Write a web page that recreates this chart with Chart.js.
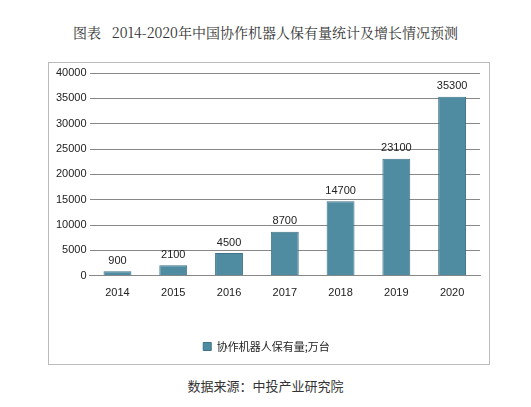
<!DOCTYPE html>
<html><head><meta charset="utf-8">
<script src="https://cdn.jsdelivr.net/npm/chart.js@4"></script>
<style>
body{margin:0;background:#fff;font-family:"Noto Sans CJK SC","DejaVu Sans",sans-serif;}
#title{position:absolute;left:0;width:531px;top:22px;text-align:center;font-size:14px;color:#333;font-family:"Noto Serif CJK SC","Liberation Serif","Noto Sans CJK SC",serif;}
#box{position:absolute;left:48px;top:62px;width:442px;height:303px;border:1px solid #bbb;box-sizing:border-box;}
#c{position:absolute;left:0;top:0;}
#src{position:absolute;left:0;width:531px;top:376px;text-align:center;font-size:13px;color:#333;}
</style></head><body>
<div id="title">图表&nbsp;&nbsp;&nbsp;2014-2020年中国协作机器人保有量统计及增长情况预测</div>
<div id="box"><canvas id="c" width="440" height="301"></canvas></div>
<div id="src">数据来源：中投产业研究院</div>
<script>
// data
const years = ['2014', '2015', '2016', '2017', '2018', '2019', '2020'];
const stock = [900, 2100, 4500, 8700, 14700, 23100, 35300];
const seriesName = '协作机器人保有量;万台';

const valueLabels = {
  id: 'valueLabels',
  afterDatasetsDraw(chart) {
    const ctx = chart.ctx;
    ctx.save();
    ctx.font = '11px "Liberation Sans", Arial, sans-serif';
    ctx.fillStyle = '#222';
    ctx.textAlign = 'center';
    ctx.textBaseline = 'bottom';
    chart.getDatasetMeta(0).data.forEach((bar, i) => {
      ctx.fillText(stock[i], bar.x, bar.y - 5);
    });
    ctx.restore();
  }
};

new Chart(document.getElementById('c'), {
  type: 'bar',
  data: {
    labels: years,
    datasets: [{
      label: seriesName,
      data: stock,
      backgroundColor: '#4f8ba1',
      borderColor: '#3d7388',
      borderWidth: 1,
      categoryPercentage: 1,
      barPercentage: 0.5
    }]
  },
  options: {
    responsive: false,
    animation: false,
    layout: { padding: { top: 10, right: 9, left: 4, bottom: 2 } },
    scales: {
      x: {
        grid: { display: false },
        border: { color: '#888' },
        ticks: { color: '#222', font: { size: 11, family: 'Liberation Sans' } }
      },
      y: {
        min: 0, max: 40000,
        ticks: { stepSize: 5000, color: '#222', font: { size: 11, family: 'Liberation Sans' }, callback: v => String(v) },
        grid: { color: '#888', drawTicks: false },
        border: { display: false }
      }
    },
    plugins: {
      legend: {
        position: 'bottom',
        labels: { boxWidth: 8, boxHeight: 8, color: '#222', font: { size: 11, family: 'Noto Sans CJK SC' }, padding: 38 }
      },
      tooltip: { enabled: false }
    }
  },
  plugins: [valueLabels]
});
</script>
</body></html>
